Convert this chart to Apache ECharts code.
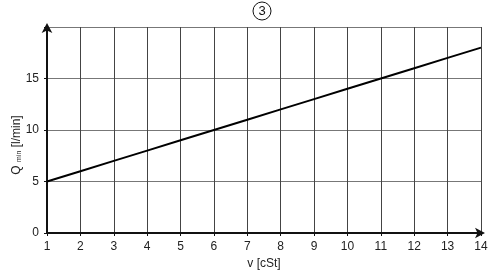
<!DOCTYPE html>
<html><head><meta charset="utf-8">
<script src="https://cdn.jsdelivr.net/npm/echarts@6/dist/echarts.min.js"></script>
<style>html,body{margin:0;padding:0;background:#fff}#c{width:500px;height:274px}</style>
</head><body><div id="c"></div>
<script>
const viscosity = [1, 2, 3, 4, 5, 6, 7, 8, 9, 10, 11, 12, 13, 14];
const qmin = [5, 6, 7, 8, 9, 10, 11, 12, 13, 14, 15, 16, 17, 18];
const yTicks = [0, 5, 10, 15];
const titleText = '3';
const xName = 'v [cSt]';

const chart = echarts.init(document.getElementById('c'), null, {renderer: 'canvas'});
const font = 'Liberation Sans, Arial, sans-serif';
chart.setOption({
  animation: false,
  title: {
    text: '{c|' + titleText + '}', left: 253, top: 2, padding: 0,
    textStyle: {rich: {c: {fontFamily: font, fontSize: 13, fontWeight: 'normal', color: '#111', width: 18, height: 18, lineHeight: 18,
      align: 'center', borderColor: '#111', borderWidth: 1, borderRadius: 10}}}
  },
  grid: {left: 47, right: 19, top: 27, bottom: 41, containLabel: false, outerBoundsMode: 'none'},
  xAxis: {
    type: 'value', min: 1, max: 14, interval: 1,
    name: xName, nameLocation: 'middle', nameGap: 25,
    nameTextStyle: {fontFamily: font, fontSize: 12, color: '#222'},
    axisLine: {show: true, lineStyle: {color: '#111', width: 2}, symbol: ['none', 'arrow'], symbolSize: [8, 10], symbolOffset: [0, 4]},
    axisTick: {show: true, length: 3, lineStyle: {color: '#111'}},
    axisLabel: {fontFamily: font, fontSize: 12, color: '#222', margin: 8},
    splitLine: {show: true, lineStyle: {color: '#444', width: 1}}
  },
  yAxis: {
    type: 'value', min: 0, max: 20, interval: 5,
    name: '{a|Q }{b|min}{a| [l/min]}', nameLocation: 'middle', nameGap: 24, nameRotate: 90, nameMoveOverlap: false,
    nameTextStyle: {padding: [0, 30, 0, 0], rich: {a: {fontFamily: font, fontSize: 12, color: '#222'}, b: {fontFamily: font, fontSize: 7, color: '#222', verticalAlign: 'bottom', padding: [4,0,0,0]}}},
    axisLine: {show: true, lineStyle: {color: '#111', width: 2}, symbol: ['none', 'arrow'], symbolSize: [8, 10], symbolOffset: [0, 4]},
    axisTick: {show: true, length: 3, lineStyle: {color: '#111'}},
    axisLabel: {fontFamily: font, fontSize: 12, color: '#222', margin: 8,
      formatter: v => yTicks.includes(v) ? String(v) : ''},
    splitLine: {show: true, lineStyle: {color: '#777', width: 1}}
  },
  series: [{
    type: 'line', data: viscosity.map((v, i) => [v, qmin[i]]),
    showSymbol: false, lineStyle: {color: '#000', width: 2}, z: 5
  }]
});
</script></body></html>
